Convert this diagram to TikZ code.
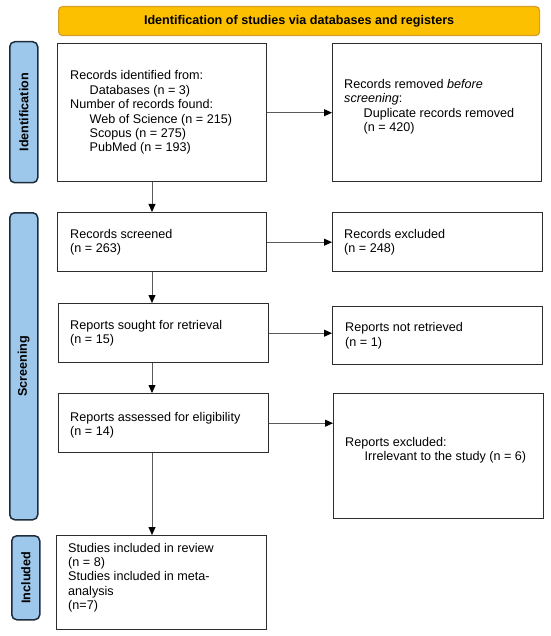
\documentclass[tikz,border=0pt]{standalone}
\usepackage{fontspec}
\setmainfont{Liberation Sans}
\usetikzlibrary{arrows.meta,calc}
\definecolor{bannerfill}{RGB}{252,192,0}
\definecolor{bannerdraw}{RGB}{214,160,40}
\definecolor{barfill}{RGB}{157,199,235}
\definecolor{bardraw}{RGB}{30,45,60}
\definecolor{boxdraw}{RGB}{45,45,45}
\definecolor{arrdraw}{RGB}{90,90,90}
\newcommand{\ind}{\hspace*{19.5pt}}
\begin{document}
\begin{tikzpicture}[x=1pt,y=-1pt,
  box/.style={draw=boxdraw,line width=1.4pt,fill=white,anchor=north west,inner sep=0pt},
  txt/.style={anchor=west,align=left,inner sep=0pt,font=\fontsize{12.6}{14.4}\selectfont},
  bar/.style={draw=bardraw,fill=barfill,line width=1.5pt,rounded corners=5pt,anchor=north west,inner sep=0pt,minimum width=28},
  barlabel/.style={rotate=90,inner sep=0pt,font=\bfseries\fontsize{12.6}{14.4}\selectfont},
  arr/.style={draw=arrdraw,line width=0.8pt,-{Triangle[length=8pt,width=7pt,color=black]}}
]
\useasboundingbox (0,0) rectangle (550,636);

% banner
\node[draw=bannerdraw,fill=bannerfill,line width=1.2pt,rounded corners=4pt,anchor=north west,
      minimum width=481,minimum height=29,inner sep=0pt,
      font=\bfseries\fontsize{12.6}{14.4}\selectfont] (banner) at (58,6)
      {Identification of studies via databases and registers};

% side bars
\node[bar,minimum height=141] (barid) at (9,41) {};
\node[barlabel] (lblid) at (barid.center) {Identification};
\node[bar,minimum height=307] (barsc) at (9,212) {};
\node[barlabel] (lblsc) at (barsc.center) {Screening};
\node[bar,minimum height=84] (barin) at (11,535) {};
\node[barlabel] (lblin) at (barin.center) {Included};

% boxes
\node[box,minimum width=209,minimum height=138] (b1) at (57,43) {};
\node[box,minimum width=209,minimum height=138] (b2) at (332,43) {};
\node[box,minimum width=209,minimum height=59] (b3) at (57,212) {};
\node[box,minimum width=210,minimum height=59] (b4) at (332,212) {};
\node[box,minimum width=210,minimum height=59] (b5) at (58,303) {};
\node[box,minimum width=210,minimum height=58] (b6) at (332,306) {};
\node[box,minimum width=210,minimum height=59] (b7) at (58,393) {};
\node[box,minimum width=210,minimum height=125] (b8) at (333,393) {};
\node[box,minimum width=210,minimum height=94] (b9) at (56,535) {};

% texts
\node[txt] (t1) at ($(b1.west)+(13,0)$) {Records identified from:\\\ind Databases (n = 3)\\Number of records found:\\\ind Web of Science (n = 215)\\\ind Scopus (n = 275)\\\ind PubMed (n = 193)};
\node[txt] (t2) at ($(b2.west)+(12,-6)$) {Records removed \textit{before}\\\textit{screening}:\\\ind Duplicate records removed\\\ind (n = 420)};
\node[txt] (t3) at ($(b3.west)+(13,0)$) {Records screened\\(n = 263)};
\node[txt] (t4) at ($(b4.west)+(12,0)$) {Records excluded\\(n = 248)};
\node[txt] (t5) at ($(b5.west)+(12,0)$) {Reports sought for retrieval\\(n = 15)};
\node[txt] (t6) at ($(b6.west)+(13,0)$) {Reports not retrieved\\(n = 1)};
\node[txt] (t7) at ($(b7.west)+(12,2)$) {Reports assessed for eligibility\\(n = 14)};
\node[txt] (t8) at ($(b8.west)+(12,-6)$) {Reports excluded:\\\ind Irrelevant to the study (n = 6)};
\node[txt] (t9) at ($(b9.west)+(12,-5)$) {Studies included in review\\(n = 8)\\Studies included in meta-\\analysis\\(n=7)};

% connectors
\draw[arr] (b1.east) -- (b2.west);
\draw[arr] (b3.east) -- (b4.west);
\draw[arr] (b5.east) -- (b5.east -| b6.west);
\draw[arr] (b7.east) -- (b7.east -| b8.west);
\coordinate (c1) at ([xshift=95pt]b1.south west);
\draw[arr] (c1) -- (c1 |- b3.north);
\coordinate (c3) at ([xshift=95pt]b3.south west);
\draw[arr] (c3) -- (c3 |- b5.north);
\coordinate (c5) at ([xshift=94pt]b5.south west);
\draw[arr] (c5) -- (c5 |- b7.north);
\coordinate (c7) at ([xshift=94pt]b7.south west);
\draw[arr] (c7) -- (c7 |- b9.north);
\end{tikzpicture}
\end{document}
